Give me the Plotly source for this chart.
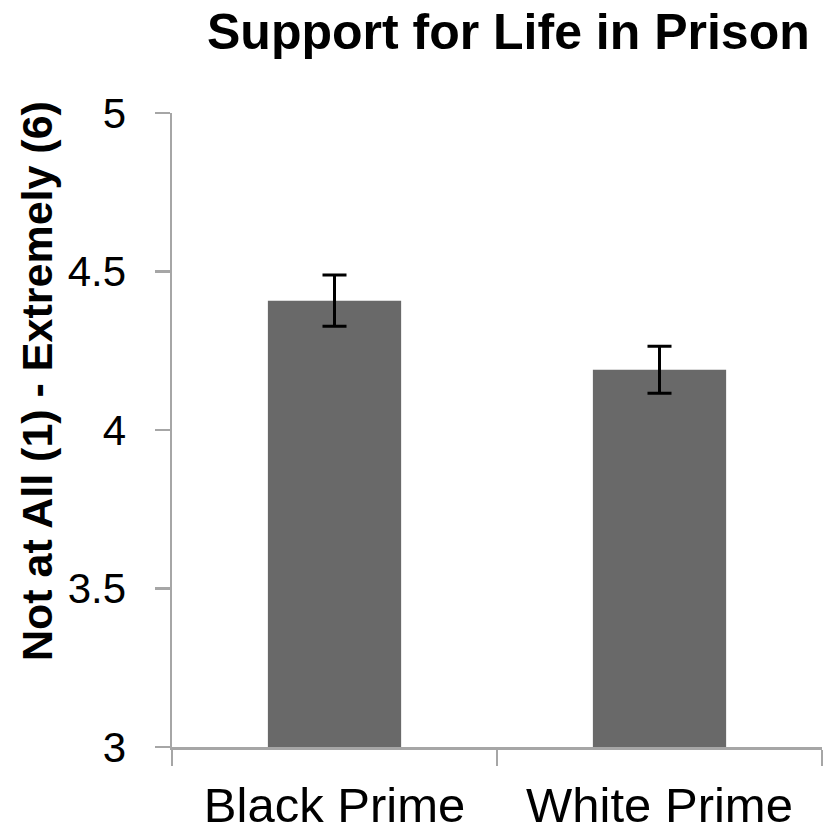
import plotly.graph_objects as go

categories = ["Black Prime", "White Prime"]
means = [4.408, 4.190]
errors = [0.081, 0.074]
y_ticks = [3, 3.5, 4, 4.5, 5]
y_tick_labels = ["3", "3.5", "4", "4.5", "5"]
title_text = "Support for Life in Prison"
y_title_text = "Not at All (1) - Extremely (6)"

W, H = 823, 835
L, R, T, B = 172, 1, 113, 88
pw, ph = W - L - R, H - T - B

fig = go.Figure(go.Bar(
    x=categories, y=means,
    marker=dict(color="#696969", line=dict(width=0)),
    width=0.41,
    error_y=dict(type="data", array=errors, visible=True,
                 color="black", thickness=3, width=12),
    hoverinfo="skip",
))

FONT = "Liberation Sans, Arial, sans-serif"
fig.update_layout(
    width=W, height=H,
    margin=dict(l=L, r=R, t=T, b=B, autoexpand=False),
    paper_bgcolor="white", plot_bgcolor="white",
    showlegend=False,
    font=dict(family=FONT, color="black"),
    xaxis=dict(
        showline=True, linecolor="#a6a6a6", linewidth=2.5,
        ticks="outside", tickson="boundaries", ticklen=16, tickwidth=2.5, tickcolor="#a6a6a6",
        tickfont=dict(size=49, family=FONT, color="black"),
        showgrid=False, zeroline=False, automargin=False,
        ticklabelstandoff=14,
    ),
    yaxis=dict(
        range=[3, 5], tickvals=y_ticks, ticktext=y_tick_labels,
        showline=True, linecolor="#a6a6a6", linewidth=2.5,
        ticks="outside", ticklen=15, tickwidth=2.5, tickcolor="#a6a6a6",
        tickfont=dict(size=42, family=FONT, color="black"),
        showgrid=False, zeroline=False, automargin=False,
        ticklabelstandoff=20,
    ),
    annotations=[
        dict(text="<b>" + title_text + "</b>", xref="paper", yref="paper",
             x=(508 - L) / pw, y=1 + (T - 32) / ph,
             xanchor="center", yanchor="middle", showarrow=False,
             font=dict(size=50, family=FONT, color="black")),
        dict(text="<b>" + y_title_text + "</b>", xref="paper", yref="paper",
             x=(37 - L) / pw, y=(H - B - 381) / ph, textangle=-90,
             xanchor="center", yanchor="middle", showarrow=False,
             font=dict(size=43, family=FONT, color="black")),
    ],
)

fig.write_html("out.html",
               config={"displayModeBar": False, "staticPlot": True},
               post_script="document.body.style.margin='0';document.body.style.overflow='hidden';")
